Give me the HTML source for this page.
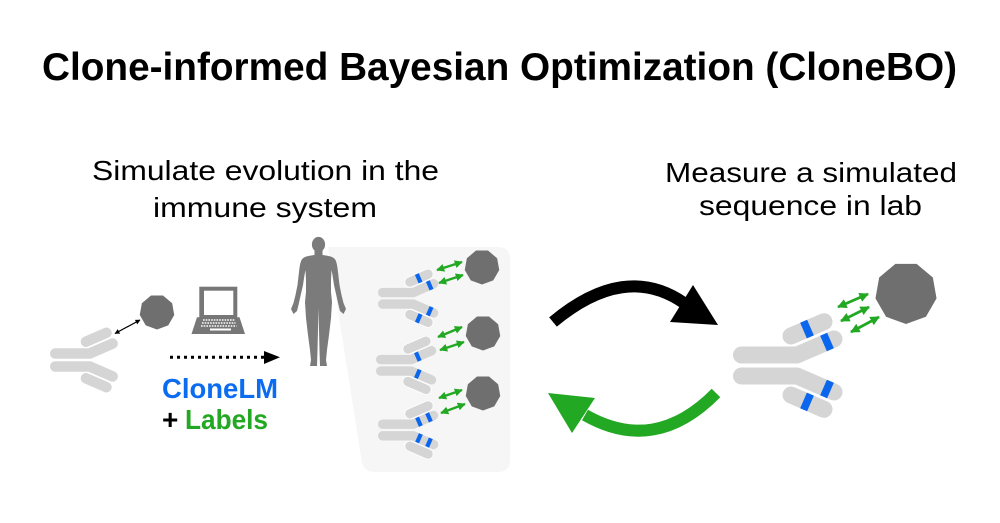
<!DOCTYPE html>
<html>
<head>
<meta charset="utf-8">
<style>
  html,body{margin:0;padding:0;background:#fff;}
  svg{display:block;}
  text{font-family:"Liberation Sans",Arial,sans-serif;}
</style>
</head>
<body>
<svg width="1000" height="523" viewBox="0 0 1000 523" xmlns="http://www.w3.org/2000/svg">
  <defs>
    <polygon id="ag" points="0,1 -0.643,0.766 -0.985,0.174 -0.866,-0.5 -0.342,-0.94 0.342,-0.94 0.866,-0.5 0.985,0.174 0.643,0.766" fill="#6f6f6f"/>
    <g id="ab" fill="none" stroke-linecap="round" stroke-linejoin="round">
      <polyline points="8.5,-10.5 64,-10.5 101,-26.5" stroke="#d5d5d5" stroke-width="17"/>
      <polyline points="8.5,10.5 64,10.5 101,26.5" stroke="#d5d5d5" stroke-width="17"/>
      <line x1="58" y1="-29.5" x2="91" y2="-43.8" stroke="#ffffff" stroke-width="20"/>
      <line x1="58" y1="-29.5" x2="91" y2="-43.8" stroke="#d5d5d5" stroke-width="17"/>
      <line x1="58" y1="29.5" x2="91" y2="43.8" stroke="#ffffff" stroke-width="20"/>
      <line x1="58" y1="29.5" x2="91" y2="43.8" stroke="#d5d5d5" stroke-width="17"/>
    </g>
    <rect id="st" x="-3.8" y="-8.5" width="7.6" height="17" fill="#0b66ee"/>
    <marker id="gh" viewBox="0 0 10 10" refX="9" refY="5" markerWidth="8" markerHeight="8" markerUnits="userSpaceOnUse" orient="auto-start-reverse">
      <path d="M0,0 L10,5 L0,10 z" fill="#22a822"/>
    </marker>
    <marker id="gh2" viewBox="0 0 10 10" refX="9" refY="5" markerWidth="9.5" markerHeight="9.5" markerUnits="userSpaceOnUse" orient="auto-start-reverse">
      <path d="M0,0 L10,5 L0,10 z" fill="#22a822"/>
    </marker>
    <marker id="bh" viewBox="0 0 10 10" refX="9" refY="5" markerWidth="5" markerHeight="5" markerUnits="userSpaceOnUse" orient="auto-start-reverse">
      <path d="M0,0 L10,5 L0,10 z" fill="#000"/>
    </marker>
  </defs>

  <!-- Title -->
  <text x="499.5" y="80" text-anchor="middle" font-size="39" font-weight="bold" fill="#000" textLength="915" lengthAdjust="spacingAndGlyphs">Clone-informed Bayesian Optimization (CloneBO)</text>

  <!-- Left heading -->
  <text x="265.5" y="180" text-anchor="middle" font-size="28" fill="#000" textLength="347" lengthAdjust="spacingAndGlyphs">Simulate evolution in the</text>
  <text x="265" y="217" text-anchor="middle" font-size="28" fill="#000" textLength="224" lengthAdjust="spacingAndGlyphs">immune system</text>

  <!-- Right heading -->
  <text x="811" y="182" text-anchor="middle" font-size="28" fill="#000" textLength="292" lengthAdjust="spacingAndGlyphs">Measure a simulated</text>
  <text x="810.5" y="215" text-anchor="middle" font-size="28" fill="#000" textLength="223" lengthAdjust="spacingAndGlyphs">sequence in lab</text>

  <!-- Middle panel background -->
  <path d="M328,247 L498,247 Q510,247 510,259 L510,460 Q510,472 498,472 L375,472 Q363,472 361.5,460 Z" fill="#f6f6f6"/>

  <!-- Human figure -->
  <g fill="#7b7b7b">
    <ellipse cx="318.5" cy="244.5" rx="6.6" ry="7.6"/>
    <rect x="314.5" y="249" width="8" height="9"/>
    <path d="M314,255 C309,256 304,256 301.5,260 C300,263 299.5,268 299,272 L297.5,285 L295.5,295 L293.5,303 L291,309 L293.5,314 L297,311 L298.5,305 L300.5,296 L303,285 L304.5,275 L305.5,270 L306,280 L306,292 L305,302 L306,318 L308,335 L310,350 L311,360 L310,366 L317,366 L317.5,350 L318,330 L318.5,308 L319,330 L319.5,350 L320,366 L327,366 L326,360 L327,350 L329,335 L331,318 L332,302 L331,292 L331,280 L331.5,270 L332.5,275 L334,285 L336.5,296 L338.5,305 L340,311 L343.5,314 L346,309 L343.5,303 L341.5,295 L339.5,285 L338,272 C337.5,268 337,263 335.5,260 C333,256 328,256 323,255 Z"/>
  </g>

  <!-- Left small antibody + antigen -->
  <use href="#ab" transform="translate(50,360) scale(0.62)"/>
  <use href="#ag" transform="translate(157,312) scale(17.5)"/>
  <line x1="115" y1="333.5" x2="140" y2="320" stroke="#000" stroke-width="1.2" marker-start="url(#bh)" marker-end="url(#bh)"/>

  <!-- Laptop -->
  <g>
    <rect x="199.3" y="286.7" width="38" height="31" fill="#777"/>
    <rect x="204" y="290.7" width="29.3" height="24.3" fill="#fff"/>
    <polygon points="197,317.3 239.5,317.3 245,334 191.5,334" fill="#777"/>
    <line x1="203" y1="320" x2="234.5" y2="320" stroke="#fff" stroke-width="1.5" stroke-dasharray="1.6 1.1"/>
    <line x1="202" y1="323" x2="235.5" y2="323" stroke="#fff" stroke-width="1.5" stroke-dasharray="1.6 1.1"/>
    <line x1="201" y1="326" x2="236.5" y2="326" stroke="#fff" stroke-width="1.5" stroke-dasharray="1.6 1.1"/>
    <rect x="210" y="328.5" width="21" height="2" fill="#fff"/>
  </g>

  <!-- Dotted arrow -->
  <line x1="170" y1="357.3" x2="264" y2="357.3" stroke="#000" stroke-width="3" stroke-dasharray="3 4"/>
  <polygon points="264,351 280,357.3 264,364" fill="#000"/>

  <!-- CloneLM + Labels -->
  <text x="162" y="398" font-size="28" font-weight="bold" fill="#0b6cf0" textLength="116" lengthAdjust="spacingAndGlyphs">CloneLM</text>
  <text x="162" y="429" font-size="28" font-weight="bold" fill="#000">+</text>
  <text x="185" y="429" font-size="28" font-weight="bold" fill="#22a822" textLength="83" lengthAdjust="spacingAndGlyphs">Labels</text>

  <!-- Middle antibodies -->
  <g transform="translate(378,298.3) scale(0.55)">
    <use href="#ab"/>
    <use href="#st" transform="translate(74,-36.4) rotate(-23.4)"/>
    <use href="#st" transform="translate(94,-23.5) rotate(-23.4)"/>
    <use href="#st" transform="translate(94,23.5) rotate(23.4)"/>
    <use href="#st" transform="translate(74,36.4) rotate(23.4)"/>
  </g>
  <g transform="translate(376,365.3) scale(0.55)">
    <use href="#ab"/>
    <use href="#st" transform="translate(76,-15.7) rotate(-23.4)"/>
    <use href="#st" transform="translate(76,15.7) rotate(23.4)"/>
  </g>
  <g transform="translate(378,430) scale(0.55)">
    <use href="#ab"/>
    <use href="#st" transform="translate(74.5,-15) rotate(-23.4)"/>
    <use href="#st" transform="translate(92.7,-22.9) rotate(-23.4)"/>
    <use href="#st" transform="translate(74.5,15) rotate(23.4)"/>
    <use href="#st" transform="translate(92.7,22.9) rotate(23.4)"/>
  </g>

  <!-- Middle antigens -->
  <use href="#ag" transform="translate(482,267) scale(17.5)"/>
  <use href="#ag" transform="translate(483,333) scale(17.5)"/>
  <use href="#ag" transform="translate(483,393) scale(17.5)"/>

  <!-- Middle green arrows -->
  <g stroke="#22a822" stroke-width="2.4" marker-start="url(#gh)" marker-end="url(#gh)">
    <line x1="437" y1="270" x2="462" y2="262"/>
    <line x1="439" y1="283" x2="463" y2="275"/>
    <line x1="438" y1="337" x2="462" y2="327"/>
    <line x1="440" y1="350" x2="464" y2="342"/>
    <line x1="439" y1="398" x2="462" y2="390"/>
    <line x1="441" y1="413" x2="465" y2="404"/>
  </g>

  <!-- Cycle arrows -->
  <path d="M553,322 Q625,262 684,303" fill="none" stroke="#000" stroke-width="12"/>
  <polygon points="693,285 670,322 718,325" fill="#000"/>
  <path d="M716,393 Q655,455 585,415" fill="none" stroke="#22a822" stroke-width="12"/>
  <polygon points="548,393 572,433 595,398" fill="#22a822"/>

  <!-- Big antibody -->
  <g transform="translate(733,365.5)">
    <use href="#ab"/>
    <use href="#st" transform="translate(74,-36.4) rotate(-23.4)"/>
    <use href="#st" transform="translate(94,-23.5) rotate(-23.4)"/>
    <use href="#st" transform="translate(94,23.5) rotate(23.4)"/>
    <use href="#st" transform="translate(74,36.4) rotate(23.4)"/>
  </g>
  <use href="#ag" transform="translate(906,293) scale(31)"/>
  <g stroke="#22a822" stroke-width="2.8" marker-start="url(#gh2)" marker-end="url(#gh2)">
    <line x1="838" y1="307" x2="868" y2="294"/>
    <line x1="841" y1="321" x2="869" y2="307"/>
    <line x1="851" y1="332" x2="879" y2="317"/>
  </g>
</svg>
</body>
</html>
